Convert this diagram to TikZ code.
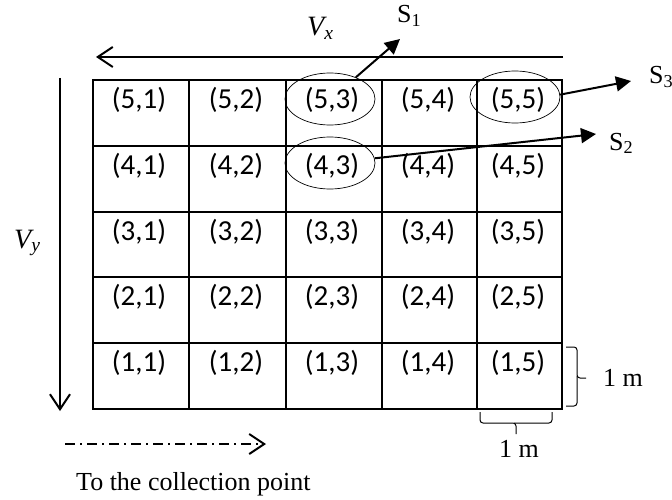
\documentclass[tikz,border=0pt]{standalone}
\usepackage{fontspec}
\setmainfont{Liberation Serif}
\newfontfamily\calfont{Carlito}
\usetikzlibrary{arrows.meta,shapes.geometric}
\begin{document}
\begin{tikzpicture}[x=1pt,y=-1pt,
  gridline/.style={line width=2pt},
  celltext/.style={font=\calfont\fontsize{29}{31}\selectfont, inner sep=0pt, anchor=center},
  ring/.style={draw, ellipse, line width=0.7pt, minimum width=90pt, minimum height=52pt, inner sep=0pt},
  openarrow/.style={line width=2pt, -{Straight Barb[length=15pt,width=20pt,line width=2pt]}},
  solidarrow/.style={line width=2pt, -{Triangle[length=15pt,width=15pt]}},
  serif/.style={font=\fontsize{26}{28}\selectfont, inner sep=0pt},
  mathlbl/.style={font=\fontsize{28}{30}\selectfont\itshape, inner sep=0pt},
  bracelike/.style={line width=1pt, rounded corners=3pt}
]
\useasboundingbox (0,0) rectangle (672,500);

% grid
\draw[gridline] (93,80) rectangle (562,409);
\foreach \x in {189,286,382,477} \draw[gridline] (\x,80) -- (\x,409);
\foreach \y in {146,212,277,343} \draw[gridline] (93,\y) -- (562,\y);

% cell labels
\foreach \r/\yy in {5/100,4/166,3/232,2/297,1/363}{
  \foreach \c/\xx in {1/139,2/236,3/332,4/428,5/518}{
    \node[celltext] (c\r\c) at (\xx,\yy) {(\r,\c)};
  }
}

% ellipses
\node[ring] (e53) at (330,99) {};
\node[ring] (e55) at (515,97) {};
\node[ring] (e43) at (330,163) {};

% velocity arrows
\coordinate (vxs) at (563,57);
\coordinate (vxe) at (96,57);
\draw[openarrow] (vxs) -- (vxe);
\node[mathlbl, anchor=base west] (vx) at (307,36) {V\textsubscript{x}};
\coordinate (vys) at (60,78);
\coordinate (vye) at (60,411);
\draw[openarrow] (vys) -- (vye);
\node[mathlbl, anchor=base west] (vy) at (14,248) {V\textsubscript{y}};

% sample arrows
\coordinate (s1tip) at (400,39);
\coordinate (s2tip) at (596,134);
\coordinate (s3tip) at (631,81);
\draw[solidarrow] (e53.40) -- (s1tip);
\draw[solidarrow] (e43.6) -- (s2tip);
\draw[solidarrow] (e55.3) -- (s3tip);
\node[serif, anchor=base west] (s1) at (397,23) {S\textsubscript{1}};
\node[serif, anchor=base west] (s2) at (609,150) {S\textsubscript{2}};
\node[serif, anchor=base west] (s3) at (649,84) {S\textsubscript{3}};

% braces
\draw[bracelike] (566,347) -- (577,347) -- (577,378) -- (586,378);
\draw[bracelike] (577,376) -- (577,406) -- (566,406);
\node[serif, anchor=base west] (mright) at (603,386) {1 m};
\draw[bracelike] (480,412) -- (480,423) -- (516,423) -- (516,434);
\draw[bracelike] (514,423) -- (552,423) -- (552,412);
\node[serif, anchor=base west] (mbottom) at (499,457) {1 m};

% collection point arrow
\coordinate (cps) at (65,444);
\coordinate (cpe) at (266,444);
\draw[line width=2pt, dash pattern=on 10pt off 5pt on 2pt off 5pt,
  -{Straight Barb[length=15pt,width=20pt,line width=2pt]}] (cps) -- (cpe);
\node[serif, anchor=base west] (cp) at (76,490) {To the collection point};
\end{tikzpicture}
\end{document}
